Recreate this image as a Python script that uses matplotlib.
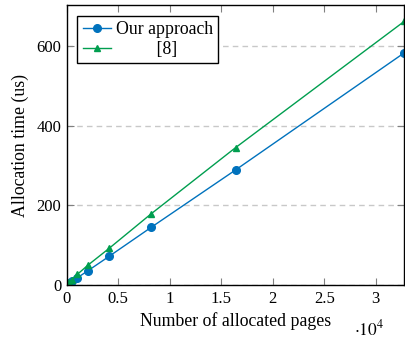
import matplotlib
matplotlib.use('Agg')
import matplotlib.pyplot as plt
import numpy as np

plt.rcParams['font.family'] = 'Liberation Serif'
plt.rcParams['mathtext.fontset'] = 'stix'

# pages allocated (powers of two)
pages = [1, 2, 4, 8, 16, 32, 64, 128, 256, 512, 1024, 2048, 4096, 8192, 16384, 32768]
ours = [0.1, 0.1, 0.2, 0.3, 0.4, 0.7, 1.2, 2.3, 4.6, 9.2, 18.5, 36, 72, 145, 289, 583]
ref8 = [0.2, 0.2, 0.3, 0.5, 0.7, 1.1, 1.9, 3.6, 7, 13.8, 27, 50, 92, 179, 345, 662]

blue = '#0072bd'
green = '#009e4f'

fig = plt.figure(figsize=(4.05, 3.39), dpi=100)
ax = fig.add_axes([0.165, 0.159, 0.833, 0.826])

ax.plot(pages, ours, color=blue, marker='o', markersize=5.5, lw=1.0, label='Our approach')
# pgfplots centres the legend text, pad the short label
ax.plot(pages, ref8, color=green, marker='^', markersize=5, lw=1.0, label=' ' * 9 + '[8]')

ax.set_xlim(0, 32768)
ax.set_ylim(0, 703)
ax.set_xticks([0, 5000, 10000, 15000, 20000, 25000, 30000])
ax.set_xticklabels(['0', '0.5', '1', '1.5', '2', '2.5', '3'])
ax.set_yticks([0, 200, 400, 600])
ax.yaxis.grid(True, ls=(0, (4, 3)), color='#c8c8c8', lw=1)
ax.set_axisbelow(True)

ax.tick_params(direction='in', top=True, right=True, labelsize=12, length=5,
               color='#808080', pad=4)
for s in ax.spines.values():
    s.set_linewidth(1.0)

ax.set_xlabel('Number of allocated pages', fontsize=12.8, labelpad=4)
ax.set_ylabel('Allocation time (us)', fontsize=12.8, labelpad=5)
fig.text(0.875, 0.0, r'$\cdot 10^4$', fontsize=12.5, ha='left', va='bottom')

leg = ax.legend(loc='upper left', fontsize=12.8, frameon=True, fancybox=False,
                edgecolor='black', framealpha=1, borderpad=0.3, handlelength=1.6,
                handletextpad=0.25, labelspacing=0.15, borderaxespad=0.6)
leg.get_frame().set_linewidth(1.0)

fig.savefig('out.png', dpi=100)
